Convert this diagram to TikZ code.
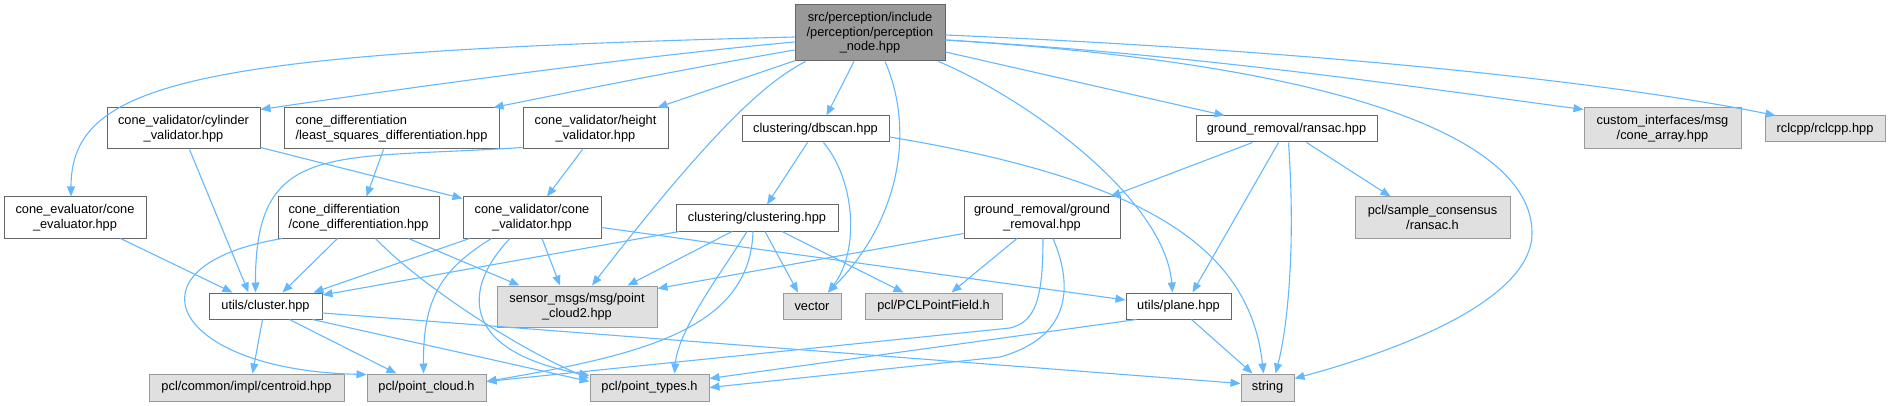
\documentclass[tikz,border=0pt]{standalone}
\usepackage{fontspec}
\setmainfont{Liberation Sans}
\usetikzlibrary{arrows.meta, calc}
\definecolor{edgeblue}{HTML}{63B8FF}
\definecolor{boxline}{HTML}{666666}
\definecolor{extfill}{HTML}{E0E0E0}
\definecolor{extline}{HTML}{999999}

\begin{document}
\begin{tikzpicture}[
    x=1pt, y=-1pt,
    every node/.style={font=\fontsize{12.8}{14.5}\selectfont, inner sep=0pt},
    box/.style={rectangle, draw=boxline, fill=white, line width=1pt, align=center},
    ext/.style={rectangle, draw=extline, fill=extfill, line width=1pt, align=center},
    top/.style={rectangle, draw=boxline, fill=extline, line width=1pt, align=center},
    dep/.style={draw=edgeblue, line width=1.1pt, -{Triangle[length=10pt, width=8pt]}}
]
    \useasboundingbox (0,0) rectangle (1892,406);

    % row 0
    \node[top, minimum width=150pt, minimum height=56pt] (main) at (870,33) {src/perception/include\\/perception/perception\\\_node.hpp};
    % row 1
    \node[box, minimum width=153pt, minimum height=41pt] (cyl) at (183.5,128.5) {cone\_validator/cylinder\\\_validator.hpp};
    \node[box, minimum width=215pt, minimum height=41pt, align=left] (lsq) at (391.5,128.5) {cone\_differentiation\\/least\_squares\_differentiation.hpp};
    \node[box, minimum width=145pt, minimum height=41pt] (hgt) at (595.5,128.5) {cone\_validator/height\\\_validator.hpp};
    \node[box, minimum width=147pt, minimum height=26pt] (dbs) at (815.5,129) {clustering/dbscan.hpp};
    \node[box, minimum width=181pt, minimum height=26pt] (rsc) at (1286.5,129) {ground\_removal/ransac.hpp};
    \node[ext, minimum width=157pt, minimum height=41pt] (cif) at (1662.5,128.5) {custom\_interfaces/msg\\/cone\_array.hpp};
    \node[ext, minimum width=120pt, minimum height=26pt] (rcl) at (1825,129) {rclcpp/rclcpp.hpp};
    % row 2
    \node[box, minimum width=142pt, minimum height=41pt] (cev) at (75,217.5) {cone\_evaluator/cone\\\_evaluator.hpp};
    \node[box, minimum width=161pt, minimum height=41pt, align=left] (cdf) at (358.5,217.5) {cone\_differentiation\\/cone\_differentiation.hpp};
    \node[box, minimum width=138pt, minimum height=41pt] (cvl) at (532,217.5) {cone\_validator/cone\\\_validator.hpp};
    \node[box, minimum width=162pt, minimum height=26pt] (clu) at (757,218) {clustering/clustering.hpp};
    \node[box, minimum width=156pt, minimum height=41pt] (grm) at (1042,217.5) {ground\_removal/ground\\\_removal.hpp};
    \node[ext, minimum width=155pt, minimum height=41pt] (sac) at (1432.5,217.5) {pcl/sample\_consensus\\/ransac.h};
    % row 3
    \node[box, minimum width=113pt, minimum height=26pt] (ucl) at (265.5,306) {utils/cluster.hpp};
    \node[ext, minimum width=160pt, minimum height=41pt] (smg) at (577,306.5) {sensor\_msgs/msg/point\\\_cloud2.hpp};
    \node[ext, minimum width=58pt, minimum height=26pt] (vec) at (812,306) {vector};
    \node[ext, minimum width=137pt, minimum height=26pt] (ppf) at (933.5,306) {pcl/PCLPointField.h};
    \node[box, minimum width=105pt, minimum height=26pt] (upl) at (1178.5,306) {utils/plane.hpp};
    % row 4
    \node[ext, minimum width=195pt, minimum height=27pt] (cen) at (246.5,387.5) {pcl/common/impl/centroid.hpp};
    \node[ext, minimum width=119pt, minimum height=27pt] (pcd) at (426.5,387.5) {pcl/point\_cloud.h};
    \node[ext, minimum width=119pt, minimum height=27pt] (ptt) at (649.5,387.5) {pcl/point\_types.h};
    \node[ext, minimum width=53pt, minimum height=27pt] (str) at (1267.5,387.5) {string};

    % includes of perception_node.hpp
    \draw[dep] ($(main.west)+(0,4)$) .. controls (200,52) and (71,80) .. ($(cev.north)+(-4,0)$);
    \draw[dep] ($(main.west)+(0,9)$) .. controls (640,56) and (420,86) .. ($(cyl.north east)+(0,2)$);
    \draw[dep] ($(main.west)+(0,17)$) .. controls (690,68) and (580,90) .. ($(lsq.north east)+(-6,0)$);
    \draw[dep] ($(main.south west)+(1,-1)$) -- ($(hgt.north east)+(-11,0)$);
    \draw[dep] ($(main.south west)+(11,0)$) .. controls (770,80) and (720,120) .. ($(smg.north)+(15,0)$);
    \draw[dep] ($(main.south)+(-16,0)$) -- ($(dbs.north)+(11,0)$);
    \draw[dep] ($(main.south)+(15,0)$) .. controls (915,130) and (900,220) .. ($(vec.north)+(16,0)$);
    \draw[dep] ($(main.south east)+(-7,0)$) .. controls (1030,100) and (1165,200) .. ($(upl.north)+(-6,0)$);
    \draw[dep] ($(main.east)+(0,19)$) -- ($(rsc.north west)+(29,0)$);
    \draw[dep] ($(main.east)+(0,7)$) .. controls (1200,55) and (1400,85) .. ($(cif.north west)+(0,2)$);
    \draw[dep] ($(main.east)+(0,2)$) .. controls (1300,50) and (1600,80) .. ($(rcl.north west)+(11,0)$);
    \draw[dep] ($(main.east)+(0,7)$) .. controls (1350,65) and (1532,140) .. (1532,233)
        .. controls (1532,300) and (1400,350) .. ($(str.east)+(0,-9)$);

    % second level
    \draw[dep] ($(cyl.south)+(6,0)$) -- ($(ucl.north)+(-17,0)$);
    \draw[dep] ($(cyl.south east)+(0,-2)$) -- ($(cvl.north west)+(0,2)$);
    \draw[dep] ($(lsq.south)+(-8,0)$) -- ($(cdf.north)+(8,0)$);
    \draw[dep] ($(hgt.south west)+(0,-2)$) .. controls (330,160) and (255,140) .. ($(ucl.north)+(-10,0)$);
    \draw[dep] ($(hgt.south)+(-13,0)$) -- ($(cvl.north)+(15,0)$);
    \draw[dep] ($(cev.south east)+(-26,0)$) -- ($(ucl.north west)+(24,0)$);
    \draw[dep] ($(dbs.south)+(-8,0)$) -- ($(clu.north)+(10,0)$);
    \draw[dep] ($(dbs.south)+(8,0)$) .. controls (855,180) and (860,250) .. ($(vec.north)+(16,0)$);
    \draw[dep] ($(dbs.east)+(0,8)$) .. controls (1150,180) and (1250,250) .. ($(str.north)+(-4,0)$);
    \draw[dep] ($(rsc.south)+(-34,0)$) -- ($(grm.north east)+(-10,0)$);
    \draw[dep] ($(rsc.south)+(-8,0)$) -- ($(upl.north)+(14,0)$);
    \draw[dep] ($(rsc.south)+(2,0)$) .. controls (1296,250) and (1287,330) .. ($(str.north)+(8,0)$);
    \draw[dep] ($(rsc.south)+(20,0)$) -- ($(sac.north west)+(36,0)$);

    % third level
    \draw[dep] ($(cdf.south)+(-21,0)$) -- ($(ucl.north)+(17,0)$);
    \draw[dep] ($(cdf.south west)+(5,0)$) .. controls (120,265) and (170,370) .. ($(pcd.north west)+(0,1)$);
    \draw[dep] ($(cdf.south)+(17,0)$) .. controls (420,285) and (520,350) .. ($(ptt.north west)+(0,5)$);
    \draw[dep] ($(cdf.south)+(50,0)$) -- ($(smg.north west)+(23,0)$);
    \draw[dep] ($(cvl.south west)+(7,0)$) -- ($(ucl.north east)+(-9,0)$);
    \draw[dep] ($(cvl.south)+(10,0)$) -- ($(smg.north)+(-17,0)$);
    \draw[dep] ($(cvl.south west)+(29,0)$) .. controls (440,270) and (423,300) .. ($(pcd.north)+(-3,0)$);
    \draw[dep] ($(cvl.south)+(-22,0)$) .. controls (465,285) and (455,350) .. ($(ptt.north west)+(0,2)$);
    \draw[dep] ($(cvl.east)+(0,10)$) -- ($(upl.west)+(0,-6)$);
    \draw[dep] ($(clu.south west)+(4,0)$) -- ($(ucl.east)+(0,-11)$);
    \draw[dep] ($(clu.south)+(-25,0)$) -- ($(smg.north east)+(-30,0)$);
    \draw[dep] ($(clu.south)+(8,0)$) -- ($(vec.north)+(-14,0)$);
    \draw[dep] ($(clu.south)+(25,0)$) -- ($(ppf.north)+(-30,0)$);
    \draw[dep] ($(clu.south)+(-10,0)$) .. controls (720,275) and (678,330) .. ($(ptt.north)+(25,0)$);
    \draw[dep] ($(clu.south)+(-4,0)$) .. controls (750,330) and (640,355) .. ($(pcd.east)+(0,-6)$);
    \draw[dep] ($(grm.south west)+(0,-5)$) -- ($(smg.north east)+(0,3)$);
    \draw[dep] ($(grm.south)+(-25,0)$) -- ($(ppf.north)+(18,0)$);
    \draw[dep] ($(grm.south)+(1,0)$) .. controls (1043,300) and (1035,322) .. (1010,328) -- ($(pcd.east)+(0,-6)$);
    \draw[dep] ($(grm.south)+(11,0)$) .. controls (1075,290) and (1068,338) .. (1000,357) -- (ptt.east);

    % utils
    \draw[dep] ($(ucl.south)+(-3,0)$) -- ($(cen.north)+(6,0)$);
    \draw[dep] ($(ucl.south)+(24,0)$) -- ($(pcd.north west)+(30,0)$);
    \draw[dep] ($(ucl.south east)+(-10,0)$) -- ($(ptt.west)+(0,-6)$);
    \draw[dep] ($(ucl.east)+(0,7)$) -- ($(str.west)+(0,-4)$);
    \draw[dep] ($(upl.south west)+(11,0)$) -- ($(ptt.east)+(0,-9)$);
    \draw[dep] ($(upl.south)+(13,0)$) -- ($(str.north)+(-15,0)$);
\end{tikzpicture}
\end{document}
